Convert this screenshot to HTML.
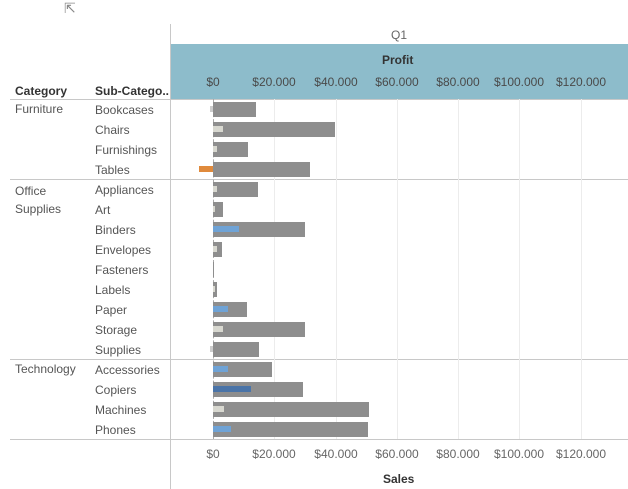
<!DOCTYPE html><html><head><style>
body{margin:0;width:628px;height:489px;background:#fff;position:relative;overflow:hidden;font-family:"Liberation Sans",sans-serif;}
div{position:absolute;}
.t{font-size:12px;color:#555;white-space:nowrap;}
.h{font-size:12px;color:#333;font-weight:bold;}
.ax{font-size:12px;color:#666;transform:translateX(-50%);}
.hx{color:#4a4a4a;}
.s{background:#8e8e8e;height:15px;}
.p{height:6px;}
.g{width:1px;background:#ececec;top:99px;height:340px;}
.sep{left:10px;width:618px;height:1px;background:#c8c8c8;}
</style></head><body>
<div style="left:64px;top:0;font-size:14px;color:#888">⇱</div>
<div style="left:170px;top:24px;width:1px;height:465px;background:#c8c8c8"></div>
<div class="t" style="left:391px;top:28px;color:#666">Q1</div>
<div style="left:171px;top:44px;width:457px;height:55px;background:#8dbccb"></div>
<div class="h" style="left:382px;top:53px">Profit</div>
<div class="h" style="left:15px;top:84px">Category</div>
<div class="h" style="left:95px;top:84px">Sub-Catego..</div>
<div class="sep" style="top:99px"></div>
<div class="sep" style="top:179px"></div>
<div class="sep" style="top:359px"></div>
<div class="sep" style="top:439px"></div>
<div class="g" style="left:274px"></div><div class="g" style="left:336px"></div><div class="g" style="left:397px"></div><div class="g" style="left:458px"></div><div class="g" style="left:519px"></div><div class="g" style="left:581px"></div>
<div style="left:213px;top:99px;height:340px;border-left:1px dashed #aaa"></div>
<div class="ax hx" style="left:213px;top:75px">$0</div><div class="ax hx" style="left:274px;top:75px">$20.000</div><div class="ax hx" style="left:336px;top:75px">$40.000</div><div class="ax hx" style="left:397px;top:75px">$60.000</div><div class="ax hx" style="left:458px;top:75px">$80.000</div><div class="ax hx" style="left:519px;top:75px">$100.000</div><div class="ax hx" style="left:581px;top:75px">$120.000</div>
<div class="ax" style="left:213px;top:447px">$0</div><div class="ax" style="left:274px;top:447px">$20.000</div><div class="ax" style="left:336px;top:447px">$40.000</div><div class="ax" style="left:397px;top:447px">$60.000</div><div class="ax" style="left:458px;top:447px">$80.000</div><div class="ax" style="left:519px;top:447px">$100.000</div><div class="ax" style="left:581px;top:447px">$120.000</div>
<div class="h" style="left:383px;top:472px">Sales</div>
<div class="t" style="left:15px;top:102px">Furniture</div>
<div class="t" style="left:15px;top:182px;line-height:18px">Office<br>Supplies</div>
<div class="t" style="left:15px;top:362px">Technology</div>
<div class="t" style="left:95px;top:103px">Bookcases</div>
<div class="t" style="left:95px;top:123px">Chairs</div>
<div class="t" style="left:95px;top:143px">Furnishings</div>
<div class="t" style="left:95px;top:163px">Tables</div>
<div class="t" style="left:95px;top:183px">Appliances</div>
<div class="t" style="left:95px;top:203px">Art</div>
<div class="t" style="left:95px;top:223px">Binders</div>
<div class="t" style="left:95px;top:243px">Envelopes</div>
<div class="t" style="left:95px;top:263px">Fasteners</div>
<div class="t" style="left:95px;top:283px">Labels</div>
<div class="t" style="left:95px;top:303px">Paper</div>
<div class="t" style="left:95px;top:323px">Storage</div>
<div class="t" style="left:95px;top:343px">Supplies</div>
<div class="t" style="left:95px;top:363px">Accessories</div>
<div class="t" style="left:95px;top:383px">Copiers</div>
<div class="t" style="left:95px;top:403px">Machines</div>
<div class="t" style="left:95px;top:423px">Phones</div>
<div class="s" style="left:213px;top:102px;width:43px"></div>
<div class="s" style="left:213px;top:122px;width:122px"></div>
<div class="s" style="left:213px;top:142px;width:35px"></div>
<div class="s" style="left:213px;top:162px;width:97px"></div>
<div class="s" style="left:213px;top:182px;width:45px"></div>
<div class="s" style="left:213px;top:202px;width:10px"></div>
<div class="s" style="left:213px;top:222px;width:92px"></div>
<div class="s" style="left:213px;top:242px;width:9px"></div>
<div class="s" style="left:213px;top:262px;width:1px"></div>
<div class="s" style="left:213px;top:282px;width:4px"></div>
<div class="s" style="left:213px;top:302px;width:34px"></div>
<div class="s" style="left:213px;top:322px;width:92px"></div>
<div class="s" style="left:213px;top:342px;width:46px"></div>
<div class="s" style="left:213px;top:362px;width:59px"></div>
<div class="s" style="left:213px;top:382px;width:90px"></div>
<div class="s" style="left:213px;top:402px;width:156px"></div>
<div class="s" style="left:213px;top:422px;width:155px"></div>
<div class="p" style="left:210px;top:106px;width:3px;background:#ccc"></div>
<div class="p" style="left:213px;top:126px;width:10px;background:#d8d8d0"></div>
<div class="p" style="left:213px;top:146px;width:4px;background:#d8d8d0"></div>
<div class="p" style="left:199px;top:166px;width:14px;background:#e08a3c"></div>
<div class="p" style="left:213px;top:186px;width:4px;background:#d8d8d0"></div>
<div class="p" style="left:213px;top:206px;width:2px;background:#d8d8d0"></div>
<div class="p" style="left:213px;top:226px;width:26px;background:#6fa3d6"></div>
<div class="p" style="left:213px;top:246px;width:4px;background:#d8d8d0"></div>
<div class="p" style="left:213px;top:286px;width:2px;background:#d8d8d0"></div>
<div class="p" style="left:213px;top:306px;width:15px;background:#6fa3d6"></div>
<div class="p" style="left:213px;top:326px;width:10px;background:#d8d8d0"></div>
<div class="p" style="left:210px;top:346px;width:3px;background:#ccc"></div>
<div class="p" style="left:213px;top:366px;width:15px;background:#6fa3d6"></div>
<div class="p" style="left:213px;top:386px;width:38px;background:#4a74a8"></div>
<div class="p" style="left:213px;top:406px;width:11px;background:#d8d8d0"></div>
<div class="p" style="left:213px;top:426px;width:18px;background:#6fa3d6"></div>
</body></html>
